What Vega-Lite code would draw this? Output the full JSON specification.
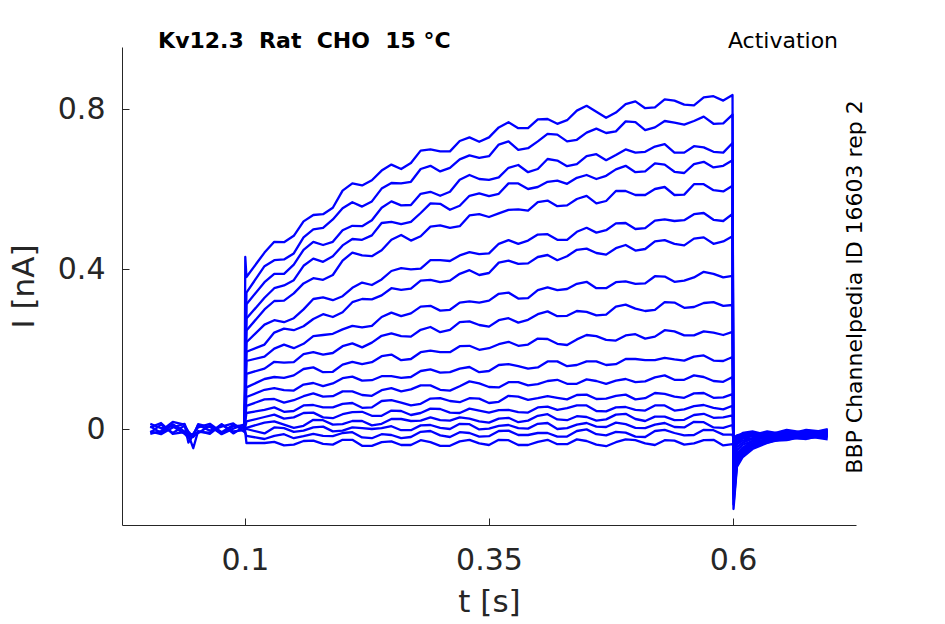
{
  "$schema": "https://vega.github.io/schema/vega-lite/v6.json",
  "width": 734,
  "height": 478,
  "autosize": {"type": "none"},
  "padding": {"left": 122, "top": 47, "right": 89, "bottom": 99},
  "background": "white",
  "config": {
    "view": {"stroke": null},
    "font": "DejaVu Sans",
    "axis": {
      "grid": false,
      "domainColor": "#262626",
      "tickColor": "#262626",
      "labelColor": "#262626",
      "titleColor": "#262626",
      "labelFont": "DejaVu Sans",
      "titleFont": "DejaVu Sans",
      "labelFontSize": 30,
      "titleFontSize": 31,
      "titleFontWeight": "normal",
      "tickSize": -7,
      "domainWidth": 1,
      "tickWidth": 1
    }
  },
  "data": {
    "values": [
      {"s":1,"t":0.003,"i":0.007},{"s":1,"t":0.014,"i":-0.010},{"s":1,"t":0.026,"i":0.012},{"s":1,"t":0.038,"i":-0.006},{"s":1,"t":0.042,"i":-0.016},{"s":1,"t":0.047,"i":-0.012},{"s":1,"t":0.052,"i":0.004},{"s":1,"t":0.064,"i":0.013},{"s":1,"t":0.076,"i":-0.008},{"s":1,"t":0.088,"i":0.010},{"s":1,"t":0.0995,"i":0.002},{"s":1,"t":0.1003,"i":0.43},
      {"s":1,"t":0.1015,"i":0.380},{"s":1,"t":0.12,"i":0.441},{"s":1,"t":0.14,"i":0.467},{"s":1,"t":0.16,"i":0.519},{"s":1,"t":0.18,"i":0.537},{"s":1,"t":0.2,"i":0.596},{"s":1,"t":0.22,"i":0.609},{"s":1,"t":0.24,"i":0.646},{"s":1,"t":0.26,"i":0.650},{"s":1,"t":0.28,"i":0.696},{"s":1,"t":0.3,"i":0.694},{"s":1,"t":0.32,"i":0.720},{"s":1,"t":0.34,"i":0.718},{"s":1,"t":0.36,"i":0.754},{"s":1,"t":0.38,"i":0.752},{"s":1,"t":0.4,"i":0.774},{"s":1,"t":0.42,"i":0.763},{"s":1,"t":0.44,"i":0.796},{"s":1,"t":0.46,"i":0.793},{"s":1,"t":0.48,"i":0.791},{"s":1,"t":0.5,"i":0.819},{"s":1,"t":0.52,"i":0.804},{"s":1,"t":0.54,"i":0.821},{"s":1,"t":0.56,"i":0.809},{"s":1,"t":0.58,"i":0.832},{"s":1,"t":0.5995,"i":0.835},
      {"s":1,"t":0.6005,"i":-0.200},{"s":1,"t":0.604,"i":-0.095},{"s":1,"t":0.61,"i":-0.070},{"s":1,"t":0.62,"i":-0.050},{"s":1,"t":0.635,"i":-0.035},{"s":1,"t":0.655,"i":-0.022},{"s":1,"t":0.675,"i":-0.024},{"s":1,"t":0.697,"i":-0.016},

      {"s":2,"t":0.0995,"i":0.003},
      {"s":2,"t":0.1015,"i":0.341},{"s":2,"t":0.12,"i":0.407},{"s":2,"t":0.14,"i":0.424},{"s":2,"t":0.16,"i":0.479},{"s":2,"t":0.18,"i":0.503},{"s":2,"t":0.2,"i":0.552},{"s":2,"t":0.22,"i":0.556},{"s":2,"t":0.24,"i":0.601},{"s":2,"t":0.26,"i":0.614},{"s":2,"t":0.28,"i":0.650},{"s":2,"t":0.3,"i":0.644},{"s":2,"t":0.32,"i":0.674},{"s":2,"t":0.34,"i":0.678},{"s":2,"t":0.36,"i":0.711},{"s":2,"t":0.38,"i":0.698},{"s":2,"t":0.4,"i":0.719},{"s":2,"t":0.42,"i":0.736},{"s":2,"t":0.44,"i":0.723},{"s":2,"t":0.46,"i":0.751},{"s":2,"t":0.48,"i":0.744},{"s":2,"t":0.5,"i":0.767},{"s":2,"t":0.52,"i":0.754},{"s":2,"t":0.54,"i":0.766},{"s":2,"t":0.56,"i":0.770},{"s":2,"t":0.58,"i":0.763},{"s":2,"t":0.5995,"i":0.786},
      {"s":2,"t":0.6005,"i":-0.189},{"s":2,"t":0.604,"i":-0.090},{"s":2,"t":0.61,"i":-0.066},{"s":2,"t":0.62,"i":-0.048},{"s":2,"t":0.635,"i":-0.030},{"s":2,"t":0.655,"i":-0.028},{"s":2,"t":0.675,"i":-0.017},{"s":2,"t":0.697,"i":-0.020},

      {"s":3,"t":0.0995,"i":-0.004},
      {"s":3,"t":0.1015,"i":0.312},{"s":3,"t":0.12,"i":0.367},{"s":3,"t":0.14,"i":0.388},{"s":3,"t":0.16,"i":0.448},{"s":3,"t":0.18,"i":0.460},{"s":3,"t":0.2,"i":0.497},{"s":3,"t":0.22,"i":0.507},{"s":3,"t":0.24,"i":0.553},{"s":3,"t":0.26,"i":0.559},{"s":3,"t":0.28,"i":0.588},{"s":3,"t":0.3,"i":0.583},{"s":3,"t":0.32,"i":0.623},{"s":3,"t":0.34,"i":0.625},{"s":3,"t":0.36,"i":0.629},{"s":3,"t":0.38,"i":0.660},{"s":3,"t":0.4,"i":0.650},{"s":3,"t":0.42,"i":0.671},{"s":3,"t":0.44,"i":0.662},{"s":3,"t":0.46,"i":0.687},{"s":3,"t":0.48,"i":0.685},{"s":3,"t":0.5,"i":0.691},{"s":3,"t":0.52,"i":0.706},{"s":3,"t":0.54,"i":0.691},{"s":3,"t":0.56,"i":0.707},{"s":3,"t":0.58,"i":0.693},{"s":3,"t":0.5995,"i":0.715},
      {"s":3,"t":0.6005,"i":-0.175},{"s":3,"t":0.604,"i":-0.084},{"s":3,"t":0.61,"i":-0.062},{"s":3,"t":0.62,"i":-0.043},{"s":3,"t":0.635,"i":-0.034},{"s":3,"t":0.655,"i":-0.020},{"s":3,"t":0.675,"i":-0.025},{"s":3,"t":0.697,"i":-0.012},

      {"s":4,"t":0.003,"i":-0.009},{"s":4,"t":0.014,"i":0.011},{"s":4,"t":0.026,"i":-0.010},{"s":4,"t":0.038,"i":0.008},{"s":4,"t":0.042,"i":-0.006},{"s":4,"t":0.047,"i":-0.020},{"s":4,"t":0.052,"i":-0.007},{"s":4,"t":0.064,"i":-0.009},{"s":4,"t":0.076,"i":0.012},{"s":4,"t":0.088,"i":-0.011},{"s":4,"t":0.0995,"i":0.006},
      {"s":4,"t":0.1015,"i":0.276},{"s":4,"t":0.12,"i":0.328},{"s":4,"t":0.14,"i":0.359},{"s":4,"t":0.16,"i":0.408},{"s":4,"t":0.18,"i":0.418},{"s":4,"t":0.2,"i":0.459},{"s":4,"t":0.22,"i":0.473},{"s":4,"t":0.24,"i":0.515},{"s":4,"t":0.26,"i":0.512},{"s":4,"t":0.28,"i":0.540},{"s":4,"t":0.3,"i":0.563},{"s":4,"t":0.32,"i":0.558},{"s":4,"t":0.34,"i":0.589},{"s":4,"t":0.36,"i":0.588},{"s":4,"t":0.38,"i":0.614},{"s":4,"t":0.4,"i":0.605},{"s":4,"t":0.42,"i":0.621},{"s":4,"t":0.44,"i":0.628},{"s":4,"t":0.46,"i":0.625},{"s":4,"t":0.48,"i":0.649},{"s":4,"t":0.5,"i":0.642},{"s":4,"t":0.52,"i":0.664},{"s":4,"t":0.54,"i":0.643},{"s":4,"t":0.56,"i":0.662},{"s":4,"t":0.58,"i":0.654},{"s":4,"t":0.5995,"i":0.672},
      {"s":4,"t":0.6005,"i":-0.164},{"s":4,"t":0.604,"i":-0.079},{"s":4,"t":0.61,"i":-0.058},{"s":4,"t":0.62,"i":-0.042},{"s":4,"t":0.635,"i":-0.026},{"s":4,"t":0.655,"i":-0.027},{"s":4,"t":0.675,"i":-0.015},{"s":4,"t":0.697,"i":-0.021},

      {"s":5,"t":0.0995,"i":0.005},
      {"s":5,"t":0.1015,"i":0.246},{"s":5,"t":0.12,"i":0.299},{"s":5,"t":0.14,"i":0.321},{"s":5,"t":0.16,"i":0.364},{"s":5,"t":0.18,"i":0.373},{"s":5,"t":0.2,"i":0.421},{"s":5,"t":0.22,"i":0.434},{"s":5,"t":0.24,"i":0.447},{"s":5,"t":0.26,"i":0.485},{"s":5,"t":0.28,"i":0.482},{"s":5,"t":0.3,"i":0.509},{"s":5,"t":0.32,"i":0.507},{"s":5,"t":0.34,"i":0.537},{"s":5,"t":0.36,"i":0.539},{"s":5,"t":0.38,"i":0.549},{"s":5,"t":0.4,"i":0.567},{"s":5,"t":0.42,"i":0.557},{"s":5,"t":0.44,"i":0.575},{"s":5,"t":0.46,"i":0.564},{"s":5,"t":0.48,"i":0.595},{"s":5,"t":0.5,"i":0.585},{"s":5,"t":0.52,"i":0.600},{"s":5,"t":0.54,"i":0.585},{"s":5,"t":0.56,"i":0.612},{"s":5,"t":0.58,"i":0.597},{"s":5,"t":0.5995,"i":0.608},
      {"s":5,"t":0.6005,"i":-0.151},{"s":5,"t":0.604,"i":-0.073},{"s":5,"t":0.61,"i":-0.054},{"s":5,"t":0.62,"i":-0.038},{"s":5,"t":0.635,"i":-0.031},{"s":5,"t":0.655,"i":-0.018},{"s":5,"t":0.675,"i":-0.022},{"s":5,"t":0.697,"i":-0.010},

      {"s":6,"t":0.0995,"i":-0.002},
      {"s":6,"t":0.1015,"i":0.217},{"s":6,"t":0.12,"i":0.261},{"s":6,"t":0.14,"i":0.267},{"s":6,"t":0.16,"i":0.299},{"s":6,"t":0.18,"i":0.329},{"s":6,"t":0.2,"i":0.332},{"s":6,"t":0.22,"i":0.366},{"s":6,"t":0.24,"i":0.374},{"s":6,"t":0.26,"i":0.402},{"s":6,"t":0.28,"i":0.401},{"s":6,"t":0.3,"i":0.422},{"s":6,"t":0.32,"i":0.434},{"s":6,"t":0.34,"i":0.437},{"s":6,"t":0.36,"i":0.463},{"s":6,"t":0.38,"i":0.463},{"s":6,"t":0.4,"i":0.486},{"s":6,"t":0.42,"i":0.473},{"s":6,"t":0.44,"i":0.493},{"s":6,"t":0.46,"i":0.491},{"s":6,"t":0.48,"i":0.514},{"s":6,"t":0.5,"i":0.500},{"s":6,"t":0.52,"i":0.521},{"s":6,"t":0.54,"i":0.520},{"s":6,"t":0.56,"i":0.537},{"s":6,"t":0.58,"i":0.523},{"s":6,"t":0.5995,"i":0.538},
      {"s":6,"t":0.6005,"i":-0.137},{"s":6,"t":0.604,"i":-0.067},{"s":6,"t":0.61,"i":-0.050},{"s":6,"t":0.62,"i":-0.036},{"s":6,"t":0.635,"i":-0.024},{"s":6,"t":0.655,"i":-0.025},{"s":6,"t":0.675,"i":-0.013},{"s":6,"t":0.697,"i":-0.018},

      {"s":7,"t":0.0995,"i":0.002},
      {"s":7,"t":0.1015,"i":0.193},{"s":7,"t":0.12,"i":0.211},{"s":7,"t":0.14,"i":0.251},{"s":7,"t":0.16,"i":0.257},{"s":7,"t":0.18,"i":0.287},{"s":7,"t":0.2,"i":0.292},{"s":7,"t":0.22,"i":0.325},{"s":7,"t":0.24,"i":0.334},{"s":7,"t":0.26,"i":0.348},{"s":7,"t":0.28,"i":0.371},{"s":7,"t":0.3,"i":0.367},{"s":7,"t":0.32,"i":0.388},{"s":7,"t":0.34,"i":0.385},{"s":7,"t":0.36,"i":0.416},{"s":7,"t":0.38,"i":0.413},{"s":7,"t":0.4,"i":0.430},{"s":7,"t":0.42,"i":0.422},{"s":7,"t":0.44,"i":0.448},{"s":7,"t":0.46,"i":0.440},{"s":7,"t":0.48,"i":0.452},{"s":7,"t":0.5,"i":0.446},{"s":7,"t":0.52,"i":0.469},{"s":7,"t":0.54,"i":0.463},{"s":7,"t":0.56,"i":0.476},{"s":7,"t":0.58,"i":0.463},{"s":7,"t":0.5995,"i":0.482},
      {"s":7,"t":0.6005,"i":-0.124},{"s":7,"t":0.604,"i":-0.061},{"s":7,"t":0.61,"i":-0.046},{"s":7,"t":0.62,"i":-0.031},{"s":7,"t":0.635,"i":-0.028},{"s":7,"t":0.655,"i":-0.015},{"s":7,"t":0.675,"i":-0.020},{"s":7,"t":0.697,"i":-0.008},

      {"s":8,"t":0.003,"i":0.013},{"s":8,"t":0.014,"i":0.002},{"s":8,"t":0.026,"i":0.007},{"s":8,"t":0.038,"i":-0.012},{"s":8,"t":0.042,"i":-0.022},{"s":8,"t":0.047,"i":-0.014},{"s":8,"t":0.052,"i":0.010},{"s":8,"t":0.064,"i":-0.004},{"s":8,"t":0.076,"i":0.006},{"s":8,"t":0.088,"i":0.014},{"s":8,"t":0.0995,"i":-0.008},
      {"s":8,"t":0.1015,"i":0.170},{"s":8,"t":0.12,"i":0.181},{"s":8,"t":0.14,"i":0.211},{"s":8,"t":0.16,"i":0.213},{"s":8,"t":0.18,"i":0.235},{"s":8,"t":0.2,"i":0.249},{"s":8,"t":0.22,"i":0.254},{"s":8,"t":0.24,"i":0.280},{"s":8,"t":0.26,"i":0.282},{"s":8,"t":0.28,"i":0.306},{"s":8,"t":0.3,"i":0.296},{"s":8,"t":0.32,"i":0.316},{"s":8,"t":0.34,"i":0.316},{"s":8,"t":0.36,"i":0.338},{"s":8,"t":0.38,"i":0.326},{"s":8,"t":0.4,"i":0.347},{"s":8,"t":0.42,"i":0.347},{"s":8,"t":0.44,"i":0.363},{"s":8,"t":0.46,"i":0.352},{"s":8,"t":0.48,"i":0.367},{"s":8,"t":0.5,"i":0.363},{"s":8,"t":0.52,"i":0.382},{"s":8,"t":0.54,"i":0.368},{"s":8,"t":0.56,"i":0.379},{"s":8,"t":0.58,"i":0.388},{"s":8,"t":0.5995,"i":0.383},
      {"s":8,"t":0.6005,"i":-0.105},{"s":8,"t":0.604,"i":-0.053},{"s":8,"t":0.61,"i":-0.039},{"s":8,"t":0.62,"i":-0.030},{"s":8,"t":0.635,"i":-0.019},{"s":8,"t":0.655,"i":-0.022},{"s":8,"t":0.675,"i":-0.011},{"s":8,"t":0.697,"i":-0.016},

      {"s":9,"t":0.0995,"i":-0.006},
      {"s":9,"t":0.1015,"i":0.138},{"s":9,"t":0.12,"i":0.151},{"s":9,"t":0.14,"i":0.166},{"s":9,"t":0.16,"i":0.187},{"s":9,"t":0.18,"i":0.186},{"s":9,"t":0.2,"i":0.207},{"s":9,"t":0.22,"i":0.204},{"s":9,"t":0.24,"i":0.233},{"s":9,"t":0.26,"i":0.232},{"s":9,"t":0.28,"i":0.248},{"s":9,"t":0.3,"i":0.242},{"s":9,"t":0.32,"i":0.267},{"s":9,"t":0.34,"i":0.260},{"s":9,"t":0.36,"i":0.272},{"s":9,"t":0.38,"i":0.266},{"s":9,"t":0.4,"i":0.287},{"s":9,"t":0.42,"i":0.282},{"s":9,"t":0.44,"i":0.295},{"s":9,"t":0.46,"i":0.284},{"s":9,"t":0.48,"i":0.306},{"s":9,"t":0.5,"i":0.301},{"s":9,"t":0.52,"i":0.298},{"s":9,"t":0.54,"i":0.316},{"s":9,"t":0.56,"i":0.305},{"s":9,"t":0.58,"i":0.317},{"s":9,"t":0.5995,"i":0.310},
      {"s":9,"t":0.6005,"i":-0.088},{"s":9,"t":0.604,"i":-0.045},{"s":9,"t":0.61,"i":-0.034},{"s":9,"t":0.62,"i":-0.024},{"s":9,"t":0.635,"i":-0.024},{"s":9,"t":0.655,"i":-0.012},{"s":9,"t":0.675,"i":-0.018},{"s":9,"t":0.697,"i":-0.006},

      {"s":10,"t":0.0995,"i":0.004},
      {"s":10,"t":0.1015,"i":0.104},{"s":10,"t":0.12,"i":0.125},{"s":10,"t":0.14,"i":0.128},{"s":10,"t":0.16,"i":0.150},{"s":10,"t":0.18,"i":0.142},{"s":10,"t":0.2,"i":0.161},{"s":10,"t":0.22,"i":0.162},{"s":10,"t":0.24,"i":0.182},{"s":10,"t":0.26,"i":0.172},{"s":10,"t":0.28,"i":0.192},{"s":10,"t":0.3,"i":0.192},{"s":10,"t":0.32,"i":0.207},{"s":10,"t":0.34,"i":0.198},{"s":10,"t":0.36,"i":0.212},{"s":10,"t":0.38,"i":0.208},{"s":10,"t":0.4,"i":0.226},{"s":10,"t":0.42,"i":0.213},{"s":10,"t":0.44,"i":0.224},{"s":10,"t":0.46,"i":0.232},{"s":10,"t":0.48,"i":0.221},{"s":10,"t":0.5,"i":0.237},{"s":10,"t":0.52,"i":0.231},{"s":10,"t":0.54,"i":0.244},{"s":10,"t":0.56,"i":0.234},{"s":10,"t":0.58,"i":0.241},{"s":10,"t":0.5995,"i":0.243},
      {"s":10,"t":0.6005,"i":-0.072},{"s":10,"t":0.604,"i":-0.038},{"s":10,"t":0.61,"i":-0.029},{"s":10,"t":0.62,"i":-0.023},{"s":10,"t":0.635,"i":-0.015},{"s":10,"t":0.655,"i":-0.020},{"s":10,"t":0.675,"i":-0.008},{"s":10,"t":0.697,"i":-0.014},

      {"s":11,"t":0.0995,"i":-0.001},
      {"s":11,"t":0.1015,"i":0.080},{"s":11,"t":0.12,"i":0.098},{"s":11,"t":0.14,"i":0.097},{"s":11,"t":0.16,"i":0.111},{"s":11,"t":0.18,"i":0.107},{"s":11,"t":0.2,"i":0.127},{"s":11,"t":0.22,"i":0.121},{"s":11,"t":0.24,"i":0.132},{"s":11,"t":0.26,"i":0.128},{"s":11,"t":0.28,"i":0.145},{"s":11,"t":0.3,"i":0.141},{"s":11,"t":0.32,"i":0.151},{"s":11,"t":0.34,"i":0.142},{"s":11,"t":0.36,"i":0.160},{"s":11,"t":0.38,"i":0.157},{"s":11,"t":0.4,"i":0.154},{"s":11,"t":0.42,"i":0.169},{"s":11,"t":0.44,"i":0.160},{"s":11,"t":0.46,"i":0.169},{"s":11,"t":0.48,"i":0.162},{"s":11,"t":0.5,"i":0.175},{"s":11,"t":0.52,"i":0.172},{"s":11,"t":0.54,"i":0.174},{"s":11,"t":0.56,"i":0.181},{"s":11,"t":0.58,"i":0.171},{"s":11,"t":0.5995,"i":0.180},
      {"s":11,"t":0.6005,"i":-0.058},{"s":11,"t":0.604,"i":-0.032},{"s":11,"t":0.61,"i":-0.024},{"s":11,"t":0.62,"i":-0.017},{"s":11,"t":0.635,"i":-0.021},{"s":11,"t":0.655,"i":-0.009},{"s":11,"t":0.675,"i":-0.016},{"s":11,"t":0.697,"i":-0.004},

      {"s":12,"t":0.003,"i":-0.012},{"s":12,"t":0.014,"i":-0.005},{"s":12,"t":0.026,"i":0.018},{"s":12,"t":0.038,"i":0.011},{"s":12,"t":0.042,"i":-0.034},{"s":12,"t":0.047,"i":-0.016},{"s":12,"t":0.052,"i":-0.010},{"s":12,"t":0.064,"i":0.008},{"s":12,"t":0.076,"i":-0.013},{"s":12,"t":0.088,"i":0.001},{"s":12,"t":0.0995,"i":0.012},
      {"s":12,"t":0.1015,"i":0.058},{"s":12,"t":0.12,"i":0.074},{"s":12,"t":0.14,"i":0.066},{"s":12,"t":0.16,"i":0.082},{"s":12,"t":0.18,"i":0.081},{"s":12,"t":0.2,"i":0.094},{"s":12,"t":0.22,"i":0.085},{"s":12,"t":0.24,"i":0.097},{"s":12,"t":0.26,"i":0.094},{"s":12,"t":0.28,"i":0.109},{"s":12,"t":0.3,"i":0.098},{"s":12,"t":0.32,"i":0.107},{"s":12,"t":0.34,"i":0.114},{"s":12,"t":0.36,"i":0.104},{"s":12,"t":0.38,"i":0.117},{"s":12,"t":0.4,"i":0.112},{"s":12,"t":0.42,"i":0.123},{"s":12,"t":0.44,"i":0.113},{"s":12,"t":0.46,"i":0.120},{"s":12,"t":0.48,"i":0.121},{"s":12,"t":0.5,"i":0.117},{"s":12,"t":0.52,"i":0.129},{"s":12,"t":0.54,"i":0.123},{"s":12,"t":0.56,"i":0.134},{"s":12,"t":0.58,"i":0.120},{"s":12,"t":0.5995,"i":0.130},
      {"s":12,"t":0.6005,"i":-0.047},{"s":12,"t":0.604,"i":-0.027},{"s":12,"t":0.61,"i":-0.021},{"s":12,"t":0.62,"i":-0.018},{"s":12,"t":0.635,"i":-0.012},{"s":12,"t":0.655,"i":-0.018},{"s":12,"t":0.675,"i":-0.006},{"s":12,"t":0.697,"i":-0.012},

      {"s":13,"t":0.0995,"i":0.006},
      {"s":13,"t":0.1015,"i":0.040},{"s":13,"t":0.12,"i":0.048},{"s":13,"t":0.14,"i":0.043},{"s":13,"t":0.16,"i":0.059},{"s":13,"t":0.18,"i":0.054},{"s":13,"t":0.2,"i":0.063},{"s":13,"t":0.22,"i":0.053},{"s":13,"t":0.24,"i":0.070},{"s":13,"t":0.26,"i":0.066},{"s":13,"t":0.28,"i":0.063},{"s":13,"t":0.3,"i":0.077},{"s":13,"t":0.32,"i":0.067},{"s":13,"t":0.34,"i":0.076},{"s":13,"t":0.36,"i":0.068},{"s":13,"t":0.38,"i":0.081},{"s":13,"t":0.4,"i":0.077},{"s":13,"t":0.42,"i":0.078},{"s":13,"t":0.44,"i":0.085},{"s":13,"t":0.46,"i":0.075},{"s":13,"t":0.48,"i":0.083},{"s":13,"t":0.5,"i":0.074},{"s":13,"t":0.52,"i":0.090},{"s":13,"t":0.54,"i":0.081},{"s":13,"t":0.56,"i":0.089},{"s":13,"t":0.58,"i":0.078},{"s":13,"t":0.5995,"i":0.087},
      {"s":13,"t":0.6005,"i":-0.038},{"s":13,"t":0.604,"i":-0.023},{"s":13,"t":0.61,"i":-0.018},{"s":13,"t":0.62,"i":-0.012},{"s":13,"t":0.635,"i":-0.019},{"s":13,"t":0.655,"i":-0.006},{"s":13,"t":0.675,"i":-0.014},{"s":13,"t":0.697,"i":-0.002},

      {"s":14,"t":0.0995,"i":-0.005},
      {"s":14,"t":0.1015,"i":0.019},{"s":14,"t":0.12,"i":0.030},{"s":14,"t":0.14,"i":0.026},{"s":14,"t":0.16,"i":0.040},{"s":14,"t":0.18,"i":0.029},{"s":14,"t":0.2,"i":0.037},{"s":14,"t":0.22,"i":0.043},{"s":14,"t":0.24,"i":0.033},{"s":14,"t":0.26,"i":0.045},{"s":14,"t":0.28,"i":0.040},{"s":14,"t":0.3,"i":0.050},{"s":14,"t":0.32,"i":0.040},{"s":14,"t":0.34,"i":0.046},{"s":14,"t":0.36,"i":0.047},{"s":14,"t":0.38,"i":0.042},{"s":14,"t":0.4,"i":0.054},{"s":14,"t":0.42,"i":0.048},{"s":14,"t":0.44,"i":0.059},{"s":14,"t":0.46,"i":0.045},{"s":14,"t":0.48,"i":0.054},{"s":14,"t":0.5,"i":0.048},{"s":14,"t":0.52,"i":0.059},{"s":14,"t":0.54,"i":0.046},{"s":14,"t":0.56,"i":0.057},{"s":14,"t":0.58,"i":0.053},{"s":14,"t":0.5995,"i":0.058},
      {"s":14,"t":0.6005,"i":-0.033},{"s":14,"t":0.604,"i":-0.021},{"s":14,"t":0.61,"i":-0.016},{"s":14,"t":0.62,"i":-0.016},{"s":14,"t":0.635,"i":-0.009},{"s":14,"t":0.655,"i":-0.016},{"s":14,"t":0.675,"i":-0.004},{"s":14,"t":0.697,"i":-0.010},

      {"s":15,"t":0.003,"i":0.004},{"s":15,"t":0.014,"i":0.015},{"s":15,"t":0.026,"i":-0.012},{"s":15,"t":0.038,"i":-0.008},{"s":15,"t":0.042,"i":-0.014},{"s":15,"t":0.047,"i":-0.048},{"s":15,"t":0.052,"i":-0.005},{"s":15,"t":0.064,"i":-0.012},{"s":15,"t":0.076,"i":0.011},{"s":15,"t":0.088,"i":-0.006},{"s":15,"t":0.0995,"i":-0.003},
      {"s":15,"t":0.1015,"i":0.003},{"s":15,"t":0.12,"i":0.016},{"s":15,"t":0.14,"i":0.011},{"s":15,"t":0.16,"i":0.008},{"s":15,"t":0.18,"i":0.022},{"s":15,"t":0.2,"i":0.012},{"s":15,"t":0.22,"i":0.020},{"s":15,"t":0.24,"i":0.013},{"s":15,"t":0.26,"i":0.025},{"s":15,"t":0.28,"i":0.021},{"s":15,"t":0.3,"i":0.022},{"s":15,"t":0.32,"i":0.029},{"s":15,"t":0.34,"i":0.019},{"s":15,"t":0.36,"i":0.026},{"s":15,"t":0.38,"i":0.017},{"s":15,"t":0.4,"i":0.033},{"s":15,"t":0.42,"i":0.024},{"s":15,"t":0.44,"i":0.032},{"s":15,"t":0.46,"i":0.021},{"s":15,"t":0.48,"i":0.036},{"s":15,"t":0.5,"i":0.025},{"s":15,"t":0.52,"i":0.031},{"s":15,"t":0.54,"i":0.022},{"s":15,"t":0.56,"i":0.035},{"s":15,"t":0.58,"i":0.028},{"s":15,"t":0.5995,"i":0.034},
      {"s":15,"t":0.6005,"i":-0.027},{"s":15,"t":0.604,"i":-0.018},{"s":15,"t":0.61,"i":-0.014},{"s":15,"t":0.62,"i":-0.009},{"s":15,"t":0.635,"i":-0.017},{"s":15,"t":0.655,"i":-0.004},{"s":15,"t":0.675,"i":-0.012},{"s":15,"t":0.697,"i":0.000},

      {"s":16,"t":0.0995,"i":0.001},
      {"s":16,"t":0.1015,"i":0.000},{"s":16,"t":0.12,"i":-0.011},{"s":16,"t":0.14,"i":0.002},{"s":16,"t":0.16,"i":-0.004},{"s":16,"t":0.18,"i":0.006},{"s":16,"t":0.2,"i":-0.004},{"s":16,"t":0.22,"i":0.002},{"s":16,"t":0.24,"i":0.002},{"s":16,"t":0.26,"i":-0.003},{"s":16,"t":0.28,"i":0.009},{"s":16,"t":0.3,"i":0.003},{"s":16,"t":0.32,"i":0.013},{"s":16,"t":0.34,"i":-0.001},{"s":16,"t":0.36,"i":0.008},{"s":16,"t":0.38,"i":0.002},{"s":16,"t":0.4,"i":0.013},{"s":16,"t":0.42,"i":0.000},{"s":16,"t":0.44,"i":0.011},{"s":16,"t":0.46,"i":0.006},{"s":16,"t":0.48,"i":0.016},{"s":16,"t":0.5,"i":0.003},{"s":16,"t":0.52,"i":0.011},{"s":16,"t":0.54,"i":0.005},{"s":16,"t":0.56,"i":0.018},{"s":16,"t":0.58,"i":0.004},{"s":16,"t":0.5995,"i":0.010},
      {"s":16,"t":0.6005,"i":-0.022},{"s":16,"t":0.604,"i":-0.016},{"s":16,"t":0.61,"i":-0.012},{"s":16,"t":0.62,"i":-0.015},{"s":16,"t":0.635,"i":-0.006},{"s":16,"t":0.655,"i":-0.014},{"s":16,"t":0.675,"i":-0.002},{"s":16,"t":0.697,"i":-0.008},

      {"s":17,"t":0.0995,"i":-0.003},
      {"s":17,"t":0.1015,"i":-0.017},{"s":17,"t":0.12,"i":-0.025},{"s":17,"t":0.14,"i":-0.013},{"s":17,"t":0.16,"i":-0.018},{"s":17,"t":0.18,"i":-0.017},{"s":17,"t":0.2,"i":-0.010},{"s":17,"t":0.22,"i":-0.021},{"s":17,"t":0.24,"i":-0.013},{"s":17,"t":0.26,"i":-0.023},{"s":17,"t":0.28,"i":-0.007},{"s":17,"t":0.3,"i":-0.016},{"s":17,"t":0.32,"i":-0.008},{"s":17,"t":0.34,"i":-0.019},{"s":17,"t":0.36,"i":-0.005},{"s":17,"t":0.38,"i":-0.015},{"s":17,"t":0.4,"i":-0.010},{"s":17,"t":0.42,"i":-0.019},{"s":17,"t":0.44,"i":-0.005},{"s":17,"t":0.46,"i":-0.013},{"s":17,"t":0.48,"i":-0.007},{"s":17,"t":0.5,"i":-0.019},{"s":17,"t":0.52,"i":-0.005},{"s":17,"t":0.54,"i":-0.010},{"s":17,"t":0.56,"i":-0.015},{"s":17,"t":0.58,"i":-0.003},{"s":17,"t":0.5995,"i":-0.014},
      {"s":17,"t":0.6005,"i":-0.025},{"s":17,"t":0.604,"i":-0.020},{"s":17,"t":0.61,"i":-0.010},{"s":17,"t":0.62,"i":-0.006},{"s":17,"t":0.635,"i":-0.015},{"s":17,"t":0.655,"i":-0.002},{"s":17,"t":0.675,"i":-0.010},{"s":17,"t":0.697,"i":-0.004},

      {"s":18,"t":0.003,"i":-0.006},{"s":18,"t":0.014,"i":-0.013},{"s":18,"t":0.026,"i":0.004},{"s":18,"t":0.038,"i":0.013},{"s":18,"t":0.042,"i":-0.010},{"s":18,"t":0.047,"i":-0.018},{"s":18,"t":0.052,"i":0.012},{"s":18,"t":0.064,"i":0.005},{"s":18,"t":0.076,"i":-0.010},{"s":18,"t":0.088,"i":0.007},{"s":18,"t":0.0995,"i":0.009},
      {"s":18,"t":0.1015,"i":-0.035},{"s":18,"t":0.12,"i":-0.035},{"s":18,"t":0.14,"i":-0.041},{"s":18,"t":0.16,"i":-0.030},{"s":18,"t":0.18,"i":-0.037},{"s":18,"t":0.2,"i":-0.027},{"s":18,"t":0.22,"i":-0.042},{"s":18,"t":0.24,"i":-0.033},{"s":18,"t":0.26,"i":-0.040},{"s":18,"t":0.28,"i":-0.028},{"s":18,"t":0.3,"i":-0.042},{"s":18,"t":0.32,"i":-0.031},{"s":18,"t":0.34,"i":-0.036},{"s":18,"t":0.36,"i":-0.027},{"s":18,"t":0.38,"i":-0.040},{"s":18,"t":0.4,"i":-0.032},{"s":18,"t":0.42,"i":-0.038},{"s":18,"t":0.44,"i":-0.026},{"s":18,"t":0.46,"i":-0.039},{"s":18,"t":0.48,"i":-0.033},{"s":18,"t":0.5,"i":-0.028},{"s":18,"t":0.52,"i":-0.040},{"s":18,"t":0.54,"i":-0.029},{"s":18,"t":0.56,"i":-0.036},{"s":18,"t":0.58,"i":-0.027},{"s":18,"t":0.5995,"i":-0.038},
      {"s":18,"t":0.6005,"i":-0.040},{"s":18,"t":0.604,"i":-0.035},{"s":18,"t":0.61,"i":-0.022},{"s":18,"t":0.62,"i":-0.027},{"s":18,"t":0.635,"i":-0.016},{"s":18,"t":0.655,"i":-0.024},{"s":18,"t":0.675,"i":-0.018},{"s":18,"t":0.697,"i":-0.026},

      {"s":1,"t":0.13,"i":0.468},{"s":1,"t":0.15,"i":0.483},{"s":1,"t":0.17,"i":0.535},{"s":1,"t":0.19,"i":0.553},{"s":1,"t":0.21,"i":0.614},{"s":1,"t":0.23,"i":0.622},{"s":1,"t":0.25,"i":0.661},{"s":1,"t":0.27,"i":0.665},{"s":1,"t":0.29,"i":0.699},{"s":1,"t":0.31,"i":0.694},{"s":1,"t":0.33,"i":0.729},{"s":1,"t":0.35,"i":0.729},{"s":1,"t":0.37,"i":0.767},{"s":1,"t":0.39,"i":0.752},{"s":1,"t":0.41,"i":0.775},{"s":1,"t":0.43,"i":0.772},{"s":1,"t":0.45,"i":0.808},{"s":1,"t":0.47,"i":0.778},{"s":1,"t":0.49,"i":0.812},{"s":1,"t":0.51,"i":0.802},{"s":1,"t":0.53,"i":0.824},{"s":1,"t":0.55,"i":0.811},{"s":1,"t":0.57,"i":0.829},{"s":1,"t":0.59,"i":0.821},
      {"s":2,"t":0.13,"i":0.422},{"s":2,"t":0.15,"i":0.439},{"s":2,"t":0.17,"i":0.499},{"s":2,"t":0.19,"i":0.524},{"s":2,"t":0.21,"i":0.567},{"s":2,"t":0.23,"i":0.569},{"s":2,"t":0.25,"i":0.615},{"s":2,"t":0.27,"i":0.618},{"s":2,"t":0.29,"i":0.658},{"s":2,"t":0.31,"i":0.653},{"s":2,"t":0.33,"i":0.684},{"s":2,"t":0.35,"i":0.682},{"s":2,"t":0.37,"i":0.719},{"s":2,"t":0.39,"i":0.702},{"s":2,"t":0.41,"i":0.738},{"s":2,"t":0.43,"i":0.719},{"s":2,"t":0.45,"i":0.741},{"s":2,"t":0.47,"i":0.740},{"s":2,"t":0.49,"i":0.769},{"s":2,"t":0.51,"i":0.747},{"s":2,"t":0.53,"i":0.770},{"s":2,"t":0.55,"i":0.761},{"s":2,"t":0.57,"i":0.781},{"s":2,"t":0.59,"i":0.764},
      {"s":3,"t":0.13,"i":0.388},{"s":3,"t":0.15,"i":0.411},{"s":3,"t":0.17,"i":0.468},{"s":3,"t":0.19,"i":0.468},{"s":3,"t":0.21,"i":0.508},{"s":3,"t":0.23,"i":0.522},{"s":3,"t":0.25,"i":0.569},{"s":3,"t":0.27,"i":0.560},{"s":3,"t":0.29,"i":0.593},{"s":3,"t":0.31,"i":0.593},{"s":3,"t":0.33,"i":0.635},{"s":3,"t":0.35,"i":0.623},{"s":3,"t":0.37,"i":0.653},{"s":3,"t":0.39,"i":0.642},{"s":3,"t":0.41,"i":0.675},{"s":3,"t":0.43,"i":0.657},{"s":3,"t":0.45,"i":0.682},{"s":3,"t":0.47,"i":0.672},{"s":3,"t":0.49,"i":0.699},{"s":3,"t":0.51,"i":0.693},{"s":3,"t":0.53,"i":0.712},{"s":3,"t":0.55,"i":0.691},{"s":3,"t":0.57,"i":0.704},{"s":3,"t":0.59,"i":0.691},
      {"s":4,"t":0.13,"i":0.352},{"s":4,"t":0.15,"i":0.372},{"s":4,"t":0.17,"i":0.426},{"s":4,"t":0.19,"i":0.432},{"s":4,"t":0.21,"i":0.475},{"s":4,"t":0.23,"i":0.484},{"s":4,"t":0.25,"i":0.518},{"s":4,"t":0.27,"i":0.518},{"s":4,"t":0.29,"i":0.564},{"s":4,"t":0.31,"i":0.548},{"s":4,"t":0.33,"i":0.583},{"s":4,"t":0.35,"i":0.582},{"s":4,"t":0.37,"i":0.614},{"s":4,"t":0.39,"i":0.600},{"s":4,"t":0.41,"i":0.618},{"s":4,"t":0.43,"i":0.613},{"s":4,"t":0.45,"i":0.635},{"s":4,"t":0.47,"i":0.633},{"s":4,"t":0.49,"i":0.658},{"s":4,"t":0.51,"i":0.644},{"s":4,"t":0.53,"i":0.661},{"s":4,"t":0.55,"i":0.640},{"s":4,"t":0.57,"i":0.668},{"s":4,"t":0.59,"i":0.658},
      {"s":5,"t":0.13,"i":0.320},{"s":5,"t":0.15,"i":0.339},{"s":5,"t":0.17,"i":0.377},{"s":5,"t":0.19,"i":0.385},{"s":5,"t":0.21,"i":0.441},{"s":5,"t":0.23,"i":0.432},{"s":5,"t":0.25,"i":0.473},{"s":5,"t":0.27,"i":0.471},{"s":5,"t":0.29,"i":0.506},{"s":5,"t":0.31,"i":0.503},{"s":5,"t":0.33,"i":0.534},{"s":5,"t":0.35,"i":0.530},{"s":5,"t":0.37,"i":0.548},{"s":5,"t":0.39,"i":0.546},{"s":5,"t":0.41,"i":0.571},{"s":5,"t":0.43,"i":0.559},{"s":5,"t":0.45,"i":0.583},{"s":5,"t":0.47,"i":0.570},{"s":5,"t":0.49,"i":0.595},{"s":5,"t":0.51,"i":0.585},{"s":5,"t":0.53,"i":0.605},{"s":5,"t":0.55,"i":0.586},{"s":5,"t":0.57,"i":0.612},{"s":5,"t":0.59,"i":0.594},
      {"s":6,"t":0.13,"i":0.272},{"s":6,"t":0.15,"i":0.277},{"s":6,"t":0.17,"i":0.325},{"s":6,"t":0.19,"i":0.322},{"s":6,"t":0.21,"i":0.353},{"s":6,"t":0.23,"i":0.360},{"s":6,"t":0.25,"i":0.395},{"s":6,"t":0.27,"i":0.399},{"s":6,"t":0.29,"i":0.422},{"s":6,"t":0.31,"i":0.420},{"s":6,"t":0.33,"i":0.442},{"s":6,"t":0.35,"i":0.439},{"s":6,"t":0.37,"i":0.472},{"s":6,"t":0.39,"i":0.471},{"s":6,"t":0.41,"i":0.487},{"s":6,"t":0.43,"i":0.473},{"s":6,"t":0.45,"i":0.503},{"s":6,"t":0.47,"i":0.497},{"s":6,"t":0.49,"i":0.515},{"s":6,"t":0.51,"i":0.502},{"s":6,"t":0.53,"i":0.524},{"s":6,"t":0.55,"i":0.522},{"s":6,"t":0.57,"i":0.540},{"s":6,"t":0.59,"i":0.520},
      {"s":7,"t":0.13,"i":0.241},{"s":7,"t":0.15,"i":0.247},{"s":7,"t":0.17,"i":0.275},{"s":7,"t":0.19,"i":0.280},{"s":7,"t":0.21,"i":0.317},{"s":7,"t":0.23,"i":0.324},{"s":7,"t":0.25,"i":0.352},{"s":7,"t":0.27,"i":0.351},{"s":7,"t":0.29,"i":0.373},{"s":7,"t":0.31,"i":0.371},{"s":7,"t":0.33,"i":0.397},{"s":7,"t":0.35,"i":0.390},{"s":7,"t":0.37,"i":0.421},{"s":7,"t":0.39,"i":0.414},{"s":7,"t":0.41,"i":0.435},{"s":7,"t":0.43,"i":0.432},{"s":7,"t":0.45,"i":0.451},{"s":7,"t":0.47,"i":0.436},{"s":7,"t":0.49,"i":0.460},{"s":7,"t":0.51,"i":0.450},{"s":7,"t":0.53,"i":0.472},{"s":7,"t":0.55,"i":0.459},{"s":7,"t":0.57,"i":0.479},{"s":7,"t":0.59,"i":0.469},
      {"s":8,"t":0.13,"i":0.201},{"s":8,"t":0.15,"i":0.202},{"s":8,"t":0.17,"i":0.232},{"s":8,"t":0.19,"i":0.238},{"s":8,"t":0.21,"i":0.258},{"s":8,"t":0.23,"i":0.258},{"s":8,"t":0.25,"i":0.291},{"s":8,"t":0.27,"i":0.289},{"s":8,"t":0.29,"i":0.308},{"s":8,"t":0.31,"i":0.298},{"s":8,"t":0.33,"i":0.319},{"s":8,"t":0.35,"i":0.321},{"s":8,"t":0.37,"i":0.341},{"s":8,"t":0.39,"i":0.327},{"s":8,"t":0.41,"i":0.354},{"s":8,"t":0.43,"i":0.350},{"s":8,"t":0.45,"i":0.368},{"s":8,"t":0.47,"i":0.352},{"s":8,"t":0.49,"i":0.369},{"s":8,"t":0.51,"i":0.364},{"s":8,"t":0.53,"i":0.381},{"s":8,"t":0.55,"i":0.371},{"s":8,"t":0.57,"i":0.393},{"s":8,"t":0.59,"i":0.379},
      {"s":9,"t":0.13,"i":0.168},{"s":9,"t":0.15,"i":0.167},{"s":9,"t":0.17,"i":0.192},{"s":9,"t":0.19,"i":0.190},{"s":9,"t":0.21,"i":0.214},{"s":9,"t":0.23,"i":0.216},{"s":9,"t":0.25,"i":0.239},{"s":9,"t":0.27,"i":0.231},{"s":9,"t":0.29,"i":0.255},{"s":9,"t":0.31,"i":0.248},{"s":9,"t":0.33,"i":0.269},{"s":9,"t":0.35,"i":0.256},{"s":9,"t":0.37,"i":0.277},{"s":9,"t":0.39,"i":0.273},{"s":9,"t":0.41,"i":0.294},{"s":9,"t":0.43,"i":0.283},{"s":9,"t":0.45,"i":0.293},{"s":9,"t":0.47,"i":0.286},{"s":9,"t":0.49,"i":0.311},{"s":9,"t":0.51,"i":0.295},{"s":9,"t":0.53,"i":0.317},{"s":9,"t":0.55,"i":0.303},{"s":9,"t":0.57,"i":0.315},{"s":9,"t":0.59,"i":0.308},
      {"s":10,"t":0.13,"i":0.130},{"s":10,"t":0.15,"i":0.134},{"s":10,"t":0.17,"i":0.154},{"s":10,"t":0.19,"i":0.143},{"s":10,"t":0.21,"i":0.168},{"s":10,"t":0.23,"i":0.167},{"s":10,"t":0.25,"i":0.186},{"s":10,"t":0.27,"i":0.175},{"s":10,"t":0.29,"i":0.196},{"s":10,"t":0.31,"i":0.192},{"s":10,"t":0.33,"i":0.208},{"s":10,"t":0.35,"i":0.202},{"s":10,"t":0.37,"i":0.218},{"s":10,"t":0.39,"i":0.211},{"s":10,"t":0.41,"i":0.225},{"s":10,"t":0.43,"i":0.210},{"s":10,"t":0.45,"i":0.235},{"s":10,"t":0.47,"i":0.223},{"s":10,"t":0.49,"i":0.234},{"s":10,"t":0.51,"i":0.226},{"s":10,"t":0.53,"i":0.247},{"s":10,"t":0.55,"i":0.234},{"s":10,"t":0.57,"i":0.244},{"s":10,"t":0.59,"i":0.235},
      {"s":11,"t":0.13,"i":0.102},{"s":11,"t":0.15,"i":0.096},{"s":11,"t":0.17,"i":0.115},{"s":11,"t":0.19,"i":0.114},{"s":11,"t":0.21,"i":0.131},{"s":11,"t":0.23,"i":0.122},{"s":11,"t":0.25,"i":0.132},{"s":11,"t":0.27,"i":0.130},{"s":11,"t":0.29,"i":0.149},{"s":11,"t":0.31,"i":0.142},{"s":11,"t":0.33,"i":0.155},{"s":11,"t":0.35,"i":0.145},{"s":11,"t":0.37,"i":0.162},{"s":11,"t":0.39,"i":0.151},{"s":11,"t":0.41,"i":0.169},{"s":11,"t":0.43,"i":0.157},{"s":11,"t":0.45,"i":0.169},{"s":11,"t":0.47,"i":0.160},{"s":11,"t":0.49,"i":0.175},{"s":11,"t":0.51,"i":0.172},{"s":11,"t":0.53,"i":0.178},{"s":11,"t":0.55,"i":0.171},{"s":11,"t":0.57,"i":0.184},{"s":11,"t":0.59,"i":0.170},
      {"s":12,"t":0.13,"i":0.075},{"s":12,"t":0.15,"i":0.072},{"s":12,"t":0.17,"i":0.089},{"s":12,"t":0.19,"i":0.082},{"s":12,"t":0.21,"i":0.094},{"s":12,"t":0.23,"i":0.083},{"s":12,"t":0.25,"i":0.102},{"s":12,"t":0.27,"i":0.099},{"s":12,"t":0.29,"i":0.109},{"s":12,"t":0.31,"i":0.096},{"s":12,"t":0.33,"i":0.119},{"s":12,"t":0.35,"i":0.105},{"s":12,"t":0.37,"i":0.117},{"s":12,"t":0.39,"i":0.109},{"s":12,"t":0.41,"i":0.120},{"s":12,"t":0.43,"i":0.113},{"s":12,"t":0.45,"i":0.124},{"s":12,"t":0.47,"i":0.113},{"s":12,"t":0.49,"i":0.125},{"s":12,"t":0.51,"i":0.119},{"s":12,"t":0.53,"i":0.134},{"s":12,"t":0.55,"i":0.123},{"s":12,"t":0.57,"i":0.130},{"s":12,"t":0.59,"i":0.118},
      {"s":13,"t":0.13,"i":0.054},{"s":13,"t":0.15,"i":0.045},{"s":13,"t":0.17,"i":0.060},{"s":13,"t":0.19,"i":0.054},{"s":13,"t":0.21,"i":0.065},{"s":13,"t":0.23,"i":0.054},{"s":13,"t":0.25,"i":0.072},{"s":13,"t":0.27,"i":0.059},{"s":13,"t":0.29,"i":0.076},{"s":13,"t":0.31,"i":0.070},{"s":13,"t":0.33,"i":0.077},{"s":13,"t":0.35,"i":0.065},{"s":13,"t":0.37,"i":0.083},{"s":13,"t":0.39,"i":0.073},{"s":13,"t":0.41,"i":0.082},{"s":13,"t":0.43,"i":0.074},{"s":13,"t":0.45,"i":0.086},{"s":13,"t":0.47,"i":0.076},{"s":13,"t":0.49,"i":0.086},{"s":13,"t":0.51,"i":0.077},{"s":13,"t":0.53,"i":0.088},{"s":13,"t":0.55,"i":0.078},{"s":13,"t":0.57,"i":0.090},{"s":13,"t":0.59,"i":0.079},
      {"s":14,"t":0.13,"i":0.036},{"s":14,"t":0.15,"i":0.029},{"s":14,"t":0.17,"i":0.041},{"s":14,"t":0.19,"i":0.027},{"s":14,"t":0.21,"i":0.042},{"s":14,"t":0.23,"i":0.033},{"s":14,"t":0.25,"i":0.046},{"s":14,"t":0.27,"i":0.035},{"s":14,"t":0.29,"i":0.051},{"s":14,"t":0.31,"i":0.041},{"s":14,"t":0.33,"i":0.051},{"s":14,"t":0.35,"i":0.041},{"s":14,"t":0.37,"i":0.048},{"s":14,"t":0.39,"i":0.041},{"s":14,"t":0.41,"i":0.056},{"s":14,"t":0.43,"i":0.052},{"s":14,"t":0.45,"i":0.059},{"s":14,"t":0.47,"i":0.044},{"s":14,"t":0.49,"i":0.055},{"s":14,"t":0.51,"i":0.046},{"s":14,"t":0.53,"i":0.059},{"s":14,"t":0.55,"i":0.049},{"s":14,"t":0.57,"i":0.060},{"s":14,"t":0.59,"i":0.049},
      {"s":15,"t":0.13,"i":0.019},{"s":15,"t":0.15,"i":0.003},{"s":15,"t":0.17,"i":0.023},{"s":15,"t":0.19,"i":0.011},{"s":15,"t":0.21,"i":0.020},{"s":15,"t":0.23,"i":0.009},{"s":15,"t":0.25,"i":0.025},{"s":15,"t":0.27,"i":0.020},{"s":15,"t":0.29,"i":0.029},{"s":15,"t":0.31,"i":0.021},{"s":15,"t":0.33,"i":0.026},{"s":15,"t":0.35,"i":0.016},{"s":15,"t":0.37,"i":0.028},{"s":15,"t":0.39,"i":0.021},{"s":15,"t":0.41,"i":0.037},{"s":15,"t":0.43,"i":0.022},{"s":15,"t":0.45,"i":0.030},{"s":15,"t":0.47,"i":0.024},{"s":15,"t":0.49,"i":0.038},{"s":15,"t":0.51,"i":0.020},{"s":15,"t":0.53,"i":0.031},{"s":15,"t":0.55,"i":0.023},{"s":15,"t":0.57,"i":0.038},{"s":15,"t":0.59,"i":0.029},
      {"s":16,"t":0.13,"i":0.004},{"s":16,"t":0.15,"i":-0.007},{"s":16,"t":0.17,"i":0.004},{"s":16,"t":0.19,"i":-0.006},{"s":16,"t":0.21,"i":0.004},{"s":16,"t":0.23,"i":0.000},{"s":16,"t":0.25,"i":0.007},{"s":16,"t":0.27,"i":-0.003},{"s":16,"t":0.29,"i":0.010},{"s":16,"t":0.31,"i":0.000},{"s":16,"t":0.33,"i":0.012},{"s":16,"t":0.35,"i":0.001},{"s":16,"t":0.37,"i":0.010},{"s":16,"t":0.39,"i":0.001},{"s":16,"t":0.41,"i":0.015},{"s":16,"t":0.43,"i":0.002},{"s":16,"t":0.45,"i":0.015},{"s":16,"t":0.47,"i":0.005},{"s":16,"t":0.49,"i":0.012},{"s":16,"t":0.51,"i":0.002},{"s":16,"t":0.53,"i":0.015},{"s":16,"t":0.55,"i":0.004},{"s":16,"t":0.57,"i":0.017},{"s":16,"t":0.59,"i":0.003},
      {"s":17,"t":0.13,"i":-0.017},{"s":17,"t":0.15,"i":-0.023},{"s":17,"t":0.17,"i":-0.012},{"s":17,"t":0.19,"i":-0.018},{"s":17,"t":0.21,"i":-0.008},{"s":17,"t":0.23,"i":-0.023},{"s":17,"t":0.25,"i":-0.015},{"s":17,"t":0.27,"i":-0.020},{"s":17,"t":0.29,"i":-0.005},{"s":17,"t":0.31,"i":-0.020},{"s":17,"t":0.33,"i":-0.010},{"s":17,"t":0.35,"i":-0.018},{"s":17,"t":0.37,"i":-0.004},{"s":17,"t":0.39,"i":-0.015},{"s":17,"t":0.41,"i":-0.010},{"s":17,"t":0.43,"i":-0.019},{"s":17,"t":0.45,"i":-0.001},{"s":17,"t":0.47,"i":-0.016},{"s":17,"t":0.49,"i":-0.009},{"s":17,"t":0.51,"i":-0.020},{"s":17,"t":0.53,"i":-0.002},{"s":17,"t":0.55,"i":-0.016},{"s":17,"t":0.57,"i":-0.002},{"s":17,"t":0.59,"i":-0.014},
      {"s":18,"t":0.13,"i":-0.032},{"s":18,"t":0.15,"i":-0.039},{"s":18,"t":0.17,"i":-0.029},{"s":18,"t":0.19,"i":-0.039},{"s":18,"t":0.21,"i":-0.027},{"s":18,"t":0.23,"i":-0.042},{"s":18,"t":0.25,"i":-0.031},{"s":18,"t":0.27,"i":-0.040},{"s":18,"t":0.29,"i":-0.033},{"s":18,"t":0.31,"i":-0.042},{"s":18,"t":0.33,"i":-0.027},{"s":18,"t":0.35,"i":-0.040},{"s":18,"t":0.37,"i":-0.028},{"s":18,"t":0.39,"i":-0.040},{"s":18,"t":0.41,"i":-0.027},{"s":18,"t":0.43,"i":-0.038},{"s":18,"t":0.45,"i":-0.030},{"s":18,"t":0.47,"i":-0.043},{"s":18,"t":0.49,"i":-0.026},{"s":18,"t":0.51,"i":-0.036},{"s":18,"t":0.53,"i":-0.028},{"s":18,"t":0.55,"i":-0.039},{"s":18,"t":0.57,"i":-0.028},{"s":18,"t":0.59,"i":-0.041}
    ]
  },
  "layer": [
    {
      "mark": {"type": "line", "color": "#0000ff", "strokeWidth": 2.3, "strokeJoin": "round"},
      "encoding": {
        "x": {
          "field": "t",
          "type": "quantitative",
          "scale": {"domain": [-0.026, 0.726], "nice": false, "zero": false},
          "axis": {"values": [0.1, 0.35, 0.6], "format": "~g", "title": "t [s]", "labelPadding": 27, "titlePadding": 12}
        },
        "y": {
          "field": "i",
          "type": "quantitative",
          "scale": {"domain": [-0.24, 0.955], "nice": false, "zero": false},
          "axis": {"values": [0, 0.4, 0.8], "format": "~g", "title": "I [nA]", "labelPadding": 24, "titlePadding": 17}
        },
        "detail": {"field": "s", "type": "nominal"},
        "order": {"field": "t", "type": "quantitative"}
      }
    },
    {
      "data": {"values": [{}]},
      "mark": {"type": "text", "text": "Kv12.3\u00a0\u00a0Rat\u00a0\u00a0CHO\u00a0\u00a015 °C", "font": "DejaVu Sans", "fontWeight": "bold", "fontSize": 22, "align": "left", "baseline": "alphabetic", "color": "black"},
      "encoding": {"x": {"datum": 0.011}, "y": {"datum": 0.953}}
    },
    {
      "data": {"values": [{}]},
      "mark": {"type": "text", "text": "Activation", "font": "DejaVu Sans", "fontSize": 22, "align": "right", "baseline": "alphabetic", "color": "black"},
      "encoding": {"x": {"datum": 0.7076}, "y": {"datum": 0.953}}
    },
    {
      "data": {"values": [{}]},
      "mark": {"type": "text", "text": "BBP Channelpedia ID 16603 rep 2", "font": "DejaVu Sans", "fontSize": 22, "angle": 270, "align": "center", "baseline": "middle", "color": "black"},
      "encoding": {"x": {"datum": 0.725}, "y": {"datum": 0.355}}
    }
  ]
}
